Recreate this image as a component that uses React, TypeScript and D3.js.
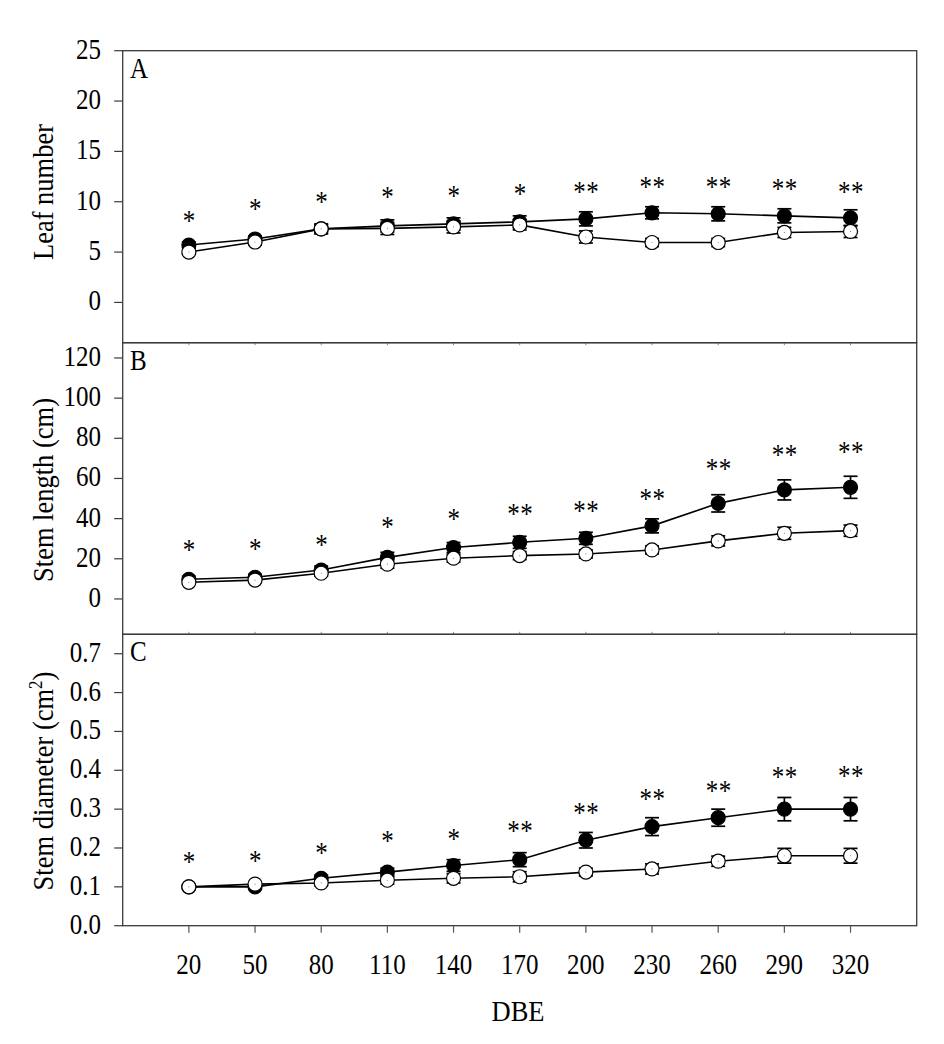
import React from "react";
import * as d3 from "d3";

// ---------- data ----------
const days = [20, 50, 80, 110, 140, 170, 200, 230, 260, 290, 320];
const xTickLabels = ["20", "50", "80", "110", "140", "170", "200", "230", "260", "290", "320"];

// Panel A – Leaf number
const leafBlack = [5.7, 6.3, 7.3, 7.6, 7.8, 8.0, 8.3, 8.9, 8.8, 8.6, 8.4];
const leafBlackErr = [0.3, 0.3, 0.4, 0.6, 0.6, 0.6, 0.7, 0.6, 0.7, 0.7, 0.8];
const leafWhite = [5.0, 6.0, 7.3, 7.35, 7.5, 7.7, 6.5, 5.95, 5.95, 6.95, 7.05];
const leafWhiteErr = [0.2, 0.3, 0.5, 0.6, 0.6, 0.5, 0.6, 0.4, 0.4, 0.5, 0.6];
const leafSig = ["*", "*", "*", "*", "*", "*", "**", "**", "**", "**", "**"];
const leafSigLevel = [8.27, 9.5, 10.16, 10.66, 10.8, 11.0, 11.15, 11.65, 11.65, 11.5, 11.2];
const leafTicks = [0, 5, 10, 15, 20, 25];

// Panel B – Stem length
const stemBlack = [9.8, 10.8, 14.4, 20.7, 25.6, 28.2, 30.2, 36.4, 47.6, 54.3, 55.6];
const stemBlackErr = [1.5, 1.5, 2.0, 2.5, 2.5, 3.0, 3.0, 3.5, 4.3, 5.0, 5.5];
const stemWhite = [8.3, 9.4, 12.8, 17.3, 20.3, 21.6, 22.4, 24.4, 28.9, 32.7, 34.0];
const stemWhiteErr = [1.0, 1.0, 1.5, 2.0, 2.0, 2.0, 2.0, 2.0, 2.5, 3.0, 2.8];
const stemSig = ["*", "*", "*", "*", "*", "**", "**", "**", "**", "**", "**"];
const stemSigLevel = [25.2, 26.0, 28.0, 36.8, 41.0, 43.5, 44.7, 50.9, 65.9, 72.5, 74.2];
const stemTicks = [0, 20, 40, 60, 80, 100, 120];

// Panel C – Stem diameter
const diamBlack = [0.1, 0.1, 0.122, 0.138, 0.155, 0.17, 0.22, 0.255, 0.278, 0.3, 0.3];
const diamBlackErr = [0.005, 0.005, 0.008, 0.01, 0.015, 0.018, 0.02, 0.023, 0.022, 0.03, 0.03];
const diamWhite = [0.1, 0.107, 0.11, 0.117, 0.122, 0.126, 0.138, 0.146, 0.166, 0.18, 0.18];
const diamWhiteErr = [0.005, 0.005, 0.007, 0.01, 0.012, 0.013, 0.01, 0.013, 0.013, 0.019, 0.019];
const diamSig = ["*", "*", "*", "*", "*", "**", "**", "**", "**", "**", "**"];
const diamSigLevel = [0.169, 0.171, 0.192, 0.222, 0.229, 0.25, 0.295, 0.33, 0.351, 0.387, 0.39];
const diamTicks = [0, 0.1, 0.2, 0.3, 0.4, 0.5, 0.6, 0.7];

// ---------- layout ----------
const W = 944;
const H = 1044;
const LEFT = 122.7;
const RIGHT = 916.7;
const FONT = "'Liberation Serif', 'Times New Roman', Times, serif";
const FRAME = "#3a3a3a";
const STRETCH = 1.15;

const xScale = d3.scaleLinear().domain([-10, 350]).range([LEFT, RIGHT]);

type Panel = {
  letter: string;
  top: number;
  bottom: number;
  domain: [number, number];
  ticks: number[];
  fmt: (v: number) => string;
  black: number[];
  blackErr: number[];
  white: number[];
  whiteErr: number[];
  sig: string[];
  sigLevel: number[];
  titleY: number;
  title: React.ReactNode;
  bottomTicks: "out" | "small-down" | "small-up";
};

const panels: Panel[] = [
  {
    letter: "A",
    top: 50.7,
    bottom: 342.7,
    domain: [-4, 25],
    ticks: leafTicks,
    fmt: (v) => d3.format("d")(v),
    black: leafBlack,
    blackErr: leafBlackErr,
    white: leafWhite,
    whiteErr: leafWhiteErr,
    sig: leafSig,
    sigLevel: leafSigLevel,
    titleY: 192,
    title: "Leaf number",
    bottomTicks: "small-down",
  },
  {
    letter: "B",
    top: 342.7,
    bottom: 634.3,
    domain: [-17.6, 127.6],
    ticks: stemTicks,
    fmt: (v) => d3.format("d")(v),
    black: stemBlack,
    blackErr: stemBlackErr,
    white: stemWhite,
    whiteErr: stemWhiteErr,
    sig: stemSig,
    sigLevel: stemSigLevel,
    titleY: 490,
    title: "Stem length (cm)",
    bottomTicks: "small-up",
  },
  {
    letter: "C",
    top: 634.3,
    bottom: 925.7,
    domain: [0, 0.75],
    ticks: diamTicks,
    fmt: (v) => d3.format(".1f")(v),
    black: diamBlack,
    blackErr: diamBlackErr,
    white: diamWhite,
    whiteErr: diamWhiteErr,
    sig: diamSig,
    sigLevel: diamSigLevel,
    titleY: 781,
    title: (
      <>
        Stem diameter (cm
        <tspan baselineShift="super" fontSize={17}>
          2
        </tspan>
        )
      </>
    ),
    bottomTicks: "out",
  },
];

const R = 7;
const CAP = 7;

function Series({
  vals,
  errs,
  y,
  filled,
}: {
  vals: number[];
  errs: number[];
  y: d3.ScaleLinear<number, number>;
  filled: boolean;
}) {
  const pts = days.map((d, i) => [xScale(d), y(vals[i])] as [number, number]);
  const line = d3.line()(pts) || "";
  return (
    <g>
      <path d={line} fill="none" stroke="#000" strokeWidth={1.6} />
      {days.map((d, i) => {
        const cx = xScale(d);
        const y1 = y(vals[i] + errs[i]);
        const y2 = y(vals[i] - errs[i]);
        return (
          <g key={"e" + i} stroke="#000" strokeWidth={1.7}>
            <line x1={cx} x2={cx} y1={y1} y2={y2} />
            <line x1={cx - CAP} x2={cx + CAP} y1={y1} y2={y1} />
            <line x1={cx - CAP} x2={cx + CAP} y1={y2} y2={y2} />
          </g>
        );
      })}
      {days.map((d, i) => (
        <g key={"m" + i}>
          <circle
            cx={xScale(d)}
            cy={y(vals[i])}
            r={R}
            fill={filled ? "#000" : "#fff"}
            stroke="#000"
            strokeWidth={1.2}
          />
          {!filled && <circle cx={xScale(d)} cy={y(vals[i])} r={0.6} fill="#888" />}
        </g>
      ))}
    </g>
  );
}

function T({
  x,
  y,
  rotate = 0,
  anchor = "start",
  size,
  dy,
  children,
  spacing,
}: {
  x: number;
  y: number;
  rotate?: number;
  anchor?: string;
  size: number;
  dy?: string;
  children: React.ReactNode;
  spacing?: number;
}) {
  return (
    <text
      transform={`translate(${x},${y}) rotate(${rotate}) scale(1,${STRETCH})`}
      textAnchor={anchor}
      fontSize={size}
      fontFamily={FONT}
      dy={dy}
      letterSpacing={spacing}
      fill="#000"
    >
      {children}
    </text>
  );
}

function PanelView({ p }: { p: Panel }) {
  const y = d3.scaleLinear().domain(p.domain).range([p.bottom, p.top]);
  return (
    <g>
      {/* frame */}
      <rect
        x={LEFT}
        y={p.top}
        width={RIGHT - LEFT}
        height={p.bottom - p.top}
        fill="none"
        stroke={FRAME}
        strokeWidth={1.3}
      />
      {/* y ticks */}
      {p.ticks.map((t) => (
        <g key={t}>
          <line x1={LEFT - 8.5} x2={LEFT} y1={y(t)} y2={y(t)} stroke={FRAME} strokeWidth={1.2} />
          <T x={101} y={y(t) + 8} anchor="end" size={25}>
            {p.fmt(t)}
          </T>
        </g>
      ))}
      {/* x ticks */}
      {days.map((d) => {
        const x = xScale(d);
        if (p.bottomTicks === "out")
          return <line key={d} x1={x} x2={x} y1={p.bottom} y2={p.bottom + 7} stroke="#555" strokeWidth={1.2} />;
        if (p.bottomTicks === "small-down")
          return <line key={d} x1={x} x2={x} y1={p.bottom} y2={p.bottom + 2.5} stroke="#888" strokeWidth={1} />;
        return <line key={d} x1={x} x2={x} y1={p.bottom - 2.5} y2={p.bottom} stroke="#888" strokeWidth={1} />;
      })}
      {/* panel letter */}
      <T x={130} y={p.top + 27} size={25}>
        {p.letter}
      </T>
      {/* y title */}
      <T x={53} y={p.titleY} rotate={-90} anchor="middle" size={26.5}>
        {p.title}
      </T>
      {/* series */}
      <Series vals={p.black} errs={p.blackErr} y={y} filled={true} />
      <Series vals={p.white} errs={p.whiteErr} y={y} filled={false} />
      {/* significance */}
      {days.map((d, i) => (
        <T key={"s" + i} x={xScale(d) + 0.5} y={y(p.sigLevel[i]) + 11} anchor="middle" size={25} spacing={0.5}>
          {p.sig[i]}
        </T>
      ))}
    </g>
  );
}

export default function App() {
  return (
    <svg
      width={W}
      height={H}
      viewBox={`0 0 ${W} ${H}`}
      style={{ position: "absolute", left: 0, top: 0, background: "#fff" }}
    >
      <rect x={0} y={0} width={W} height={H} fill="#fff" />
      {panels.map((p) => (
        <PanelView key={p.letter} p={p} />
      ))}
      {days.map((d, i) => (
        <T key={"xl" + d} x={xScale(d)} y={974} anchor="middle" size={25}>
          {xTickLabels[i]}
        </T>
      ))}
      <T x={518} y={1021} anchor="middle" size={26.5}>
        DBE
      </T>
    </svg>
  );
}
